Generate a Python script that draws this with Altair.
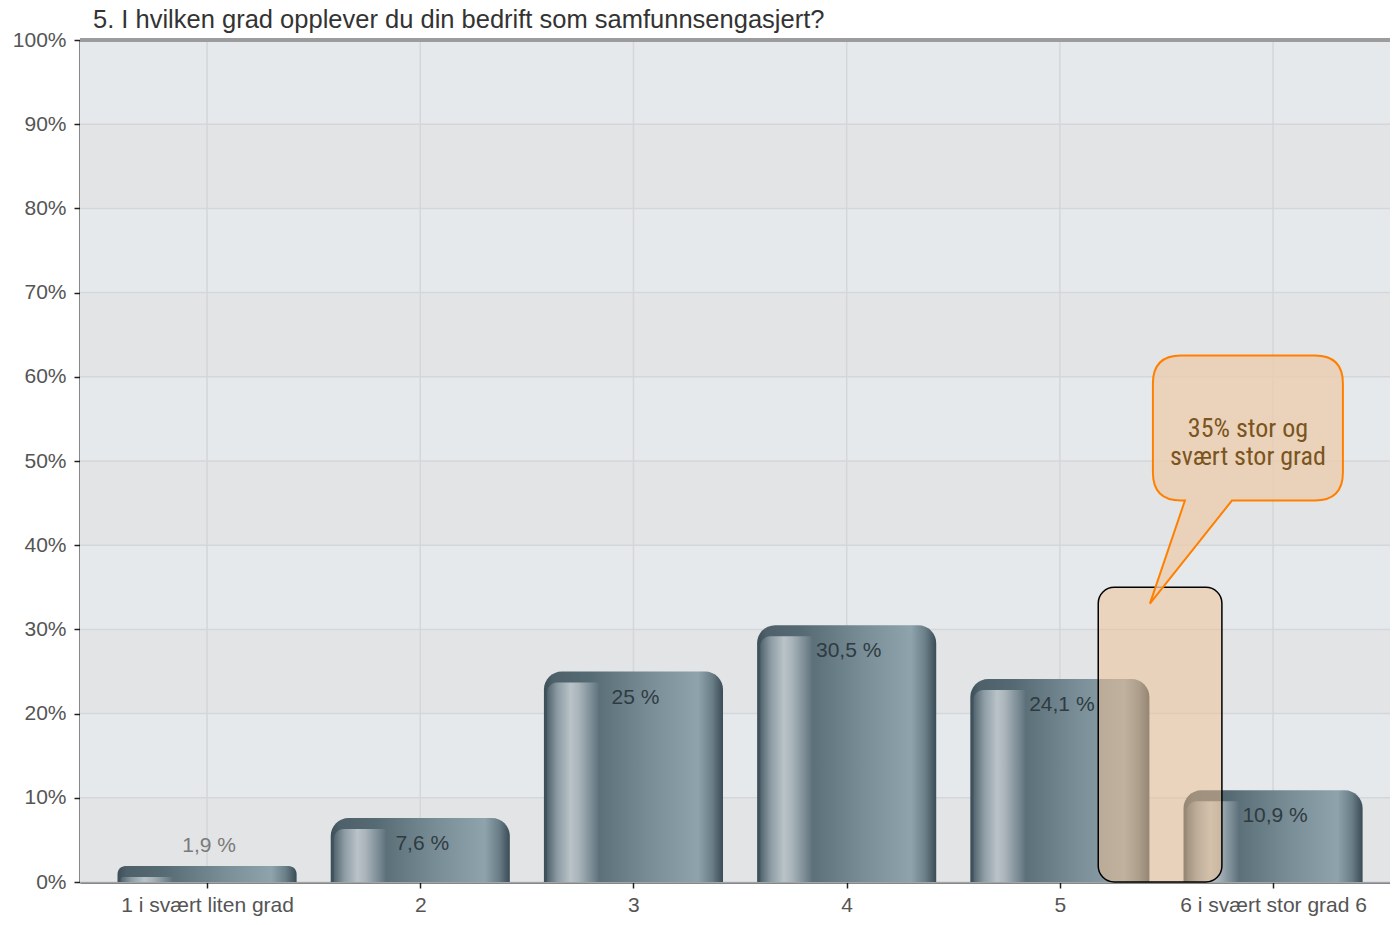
import altair as alt
import pandas as pd

# ---- data ----
categories = ["1 i svært liten grad", "2", "3", "4", "5", "6 i svært stor grad 6"]
positions = [1, 2, 3, 4, 5, 6]
values = [1.9, 7.6, 25.0, 30.5, 24.1, 10.9]
value_labels = ["1,9 %", "7,6 %", "25 %", "30,5 %", "24,1 %", "10,9 %"]
y_ticks = [0, 10, 20, 30, 40, 50, 60, 70, 80, 90, 100]

# annotation (highlight around the two top answers, and callout)
highlight_x = [5.18, 5.76]
highlight_y = [0, 35]
callout_pos = [5.882, 53.85]
callout_text = ["35% stor og", "svært stor grad"]

title = "5. I hvilken grad opplever du din bedrift som samfunnsengasjert?"

W, H = 1310, 842
FONT = "Liberation Sans"

df = pd.DataFrame({"pos": positions, "cat": categories, "v": values, "lab": value_labels})
bands = pd.DataFrame({"lo": y_ticks[:-1], "hi": y_ticks[1:]})
bands["odd"] = [(i % 2) for i in range(len(bands))]
grid_y = pd.DataFrame({"t": y_ticks})
grid_x = pd.DataFrame({"p": positions})
title_df = pd.DataFrame({"t": [title]})

xscale = alt.Scale(domain=[0.404, 0.404 + W / 213.2], nice=False, zero=False)
yscale = alt.Scale(domain=[0, 100], nice=False)

label_expr = "[" + ",".join("'" + c + "'" for c in categories) + "][datum.value - 1]"

x_axis = alt.Axis(values=positions, labelExpr=label_expr, grid=False, domainColor="#111",
                  domainWidth=2, tickColor="#222", tickSize=6, tickWidth=1.5,
                  labelFont=FONT, labelFontSize=21, labelColor="#555", labelPadding=6,
                  title=None, labelAngle=0, labelBaseline="top", labelLimit=400)
y_axis = alt.Axis(values=y_ticks, labelExpr="datum.value + '%'", grid=False, domainColor="#111",
                  domainWidth=2, tickColor="#222", tickSize=6, tickWidth=1.5,
                  labelFont=FONT, labelFontSize=21, labelColor="#555", labelPadding=8,
                  title=None)

X = lambda f: alt.X(f, scale=xscale, axis=x_axis)
Y = lambda f: alt.Y(f, scale=yscale, axis=y_axis)

band_layer = alt.Chart(bands).mark_rect().encode(
    x=alt.value(0), x2=alt.value(W),
    y=Y("lo:Q"), y2="hi:Q",
    color=alt.condition("datum.odd == 1", alt.value("#e6e9ec"), alt.value("#e3e4e6")),
)

hgrid = alt.Chart(grid_y).mark_rule(color="#d4d6d9", strokeWidth=1.5).encode(
    y=Y("t:Q"), x=alt.value(0), x2=alt.value(W)
)
vgrid = alt.Chart(grid_x).mark_rule(color="#d4d6d9", strokeWidth=1.5).encode(
    x=X("p:Q"), y=alt.value(0), y2=alt.value(H)
)

outer_grad = alt.Gradient(
    gradient="linear", x1=0, x2=1, y1=0, y2=0,
    stops=[
        alt.GradientStop(offset=0.0, color="#3c4f59"),
        alt.GradientStop(offset=0.05, color="#4e616b"),
        alt.GradientStop(offset=0.25, color="#566a74"),
        alt.GradientStop(offset=0.6, color="#7a8e98"),
        alt.GradientStop(offset=0.86, color="#8fa3ad"),
        alt.GradientStop(offset=0.94, color="#6a7e88"),
        alt.GradientStop(offset=1.0, color="#3a4c56"),
    ],
)
inner_grad = alt.Gradient(
    gradient="linear", x1=0, x2=1, y1=0, y2=0,
    stops=[
        alt.GradientStop(offset=0.0, color="#52646e"),
        alt.GradientStop(offset=0.2, color="#8d9ca4"),
        alt.GradientStop(offset=0.45, color="#b9c3c8"),
        alt.GradientStop(offset=0.6, color="#aab5bb"),
        alt.GradientStop(offset=0.85, color="#7b8c95"),
        alt.GradientStop(offset=1.0, color="#5e717b"),
    ],
)

bars = alt.Chart(df).transform_calculate(
    x0="datum.pos - 0.42", x1="datum.pos + 0.42"
).mark_bar(color=outer_grad, cornerRadiusTopLeft=18, cornerRadiusTopRight=18).encode(
    x=X("x0:Q"), x2="x1:Q",
    y=Y("v:Q"), y2=alt.datum(0),
)

inner = alt.Chart(df).transform_calculate(
    x0="datum.pos - 0.405", x1="datum.pos - 0.16", top="max(datum.v - 1.3, 0)"
).mark_bar(color=inner_grad, cornerRadiusTopLeft=10).encode(
    x=X("x0:Q"), x2="x1:Q",
    y=Y("top:Q"), y2=alt.datum(0),
)

labels = alt.Chart(df).transform_calculate(
    ly="datum.v < 5 ? datum.v + 2.4 : datum.v - 3.1",
).mark_text(font=FONT, fontSize=21, baseline="middle", align="center", dx=2).encode(
    x=X("pos:Q"),
    y=Y("ly:Q"),
    text="lab:N",
    color=alt.condition("datum.v < 5", alt.value("#7a7a7a"), alt.value("#2f3b41")),
)

hl = pd.DataFrame({"x0": [highlight_x[0]], "x1": [highlight_x[1]], "y0": [highlight_y[0]], "y1": [highlight_y[1]]})
highlight = alt.Chart(hl).mark_rect(
    fill="#f0c090", fillOpacity=0.5, stroke="#000000", strokeWidth=1.5, cornerRadius=16
).encode(
    x=X("x0:Q"), x2="x1:Q",
    y=Y("y0:Q"), y2="y1:Q",
)

bubble_path = (
    "M -0.67,-0.73 L 0.67,-0.73 Q 0.95,-0.73 0.95,-0.45 L 0.95,0.44 Q 0.95,0.72 0.67,0.72 "
    "L -0.16,0.72 L -0.98,1.75 L -0.63,0.72 L -0.67,0.72 Q -0.95,0.72 -0.95,0.44 "
    "L -0.95,-0.45 Q -0.95,-0.73 -0.67,-0.73 Z"
)
co = pd.DataFrame({"x": [callout_pos[0]], "y": [callout_pos[1]], "txt": [callout_text]})
bubble = alt.Chart(co).mark_point(
    shape=bubble_path, size=40000, filled=True, fill="#ecccac", fillOpacity=0.78,
    stroke="#ff8000", strokeWidth=2, opacity=1,
).encode(
    x=X("x:Q"), y=Y("y:Q"),
)
bubble_text = alt.Chart(co).mark_text(
    font="Liberation Sans Narrow, Roboto Condensed, DejaVu Sans Condensed, Liberation Sans",
    fontSize=26, color="#7a5520", align="center", baseline="middle", lineHeight=28,
).encode(
    x=X("x:Q"), y=Y("y:Q"),
    text="txt",
)

top_border = alt.Chart(grid_x).mark_rule(color="#9c9c9c", strokeWidth=3).encode(
    x=alt.value(0), x2=alt.value(W), y=alt.value(0)
)

title_mark = alt.Chart(title_df).mark_text(
    font=FONT, fontSize=25.5, color="#333333", align="left", baseline="alphabetic"
).encode(
    x=alt.value(13), y=alt.value(-12), text="t:N"
)

chart = alt.layer(
    band_layer, hgrid, vgrid, bars, inner, labels, highlight, bubble, bubble_text,
    top_border, title_mark
).properties(
    width=W, height=H,
    autosize=alt.AutoSizeParams(type="none"),
    padding={"left": 72, "top": 32, "right": 0, "bottom": 34},
).configure_view(stroke=None).configure(background="white")

chart.save("out.html", embed_options={"renderer": "svg", "actions": False})
